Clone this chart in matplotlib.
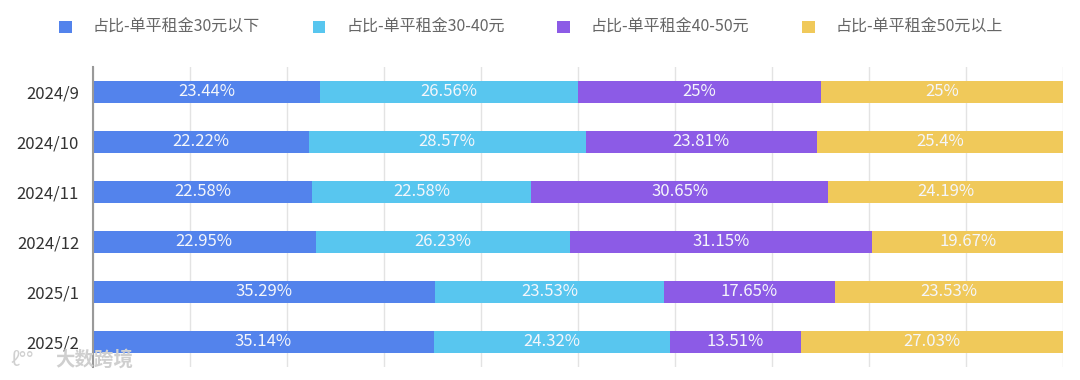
import numpy as np
import matplotlib
matplotlib.use("Agg")
import matplotlib.pyplot as plt

plt.rcParams['font.family'] = ['Noto Sans CJK SC', 'DejaVu Sans']

# data
months = ["2024/9", "2024/10", "2024/11", "2024/12", "2025/1", "2025/2"]
series_names = ["占比-单平租金30元以下", "占比-单平租金30-40元",
                "占比-单平租金40-50元", "占比-单平租金50元以上"]
below30 = [23.44, 22.22, 22.58, 22.95, 35.29, 35.14]
r30_40 = [26.56, 28.57, 22.58, 26.23, 23.53, 24.32]
r40_50 = [25, 23.81, 30.65, 31.15, 17.65, 13.51]
above50 = [25, 25.4, 24.19, 19.67, 23.53, 27.03]

colors = ["#5383ec", "#58c6ef", "#8c5be6", "#f0c95a"]

fig = plt.figure(figsize=(10.8, 3.8), dpi=100)
ax = fig.add_axes([93 / 1080, 13 / 380, 970 / 1080, 300 / 380])

y = np.arange(len(months))
left = np.zeros(len(months))
for vals, name, c in zip([below30, r30_40, r40_50, above50], series_names, colors):
    vals = np.array(vals, dtype=float)
    bars = ax.barh(y, vals, left=left, height=0.44, color=c, label=name, zorder=2)
    for b, v in zip(bars, vals):
        ax.text(b.get_x() + b.get_width() / 2, b.get_y() + b.get_height() / 2,
                f"{v:g}%", ha='center', va='center', color='#f4f6fb',
                fontsize=12, zorder=3)
    left += vals

ax.set_xlim(0, left.max())
ax.set_ylim(len(months) - 0.5, -0.5)
ax.set_yticks(y)
ax.set_yticklabels(months, fontsize=12, color='#333333')
ax.set_xticks(np.linspace(0, left.max(), 11))
ax.set_xticklabels([])
ax.tick_params(axis='x', length=0)
ax.tick_params(axis='y', length=0, pad=10)
ax.grid(axis='x', color='#e3e3e3', linewidth=1, zorder=0)
for s in ['top', 'right', 'bottom']:
    ax.spines[s].set_visible(False)
ax.spines['left'].set_color('#999999')
ax.spines['left'].set_linewidth(1.5)

fig.legend(loc='upper left', bbox_to_anchor=(40 / 1080, 1.0), ncol=4, frameon=False,
           handlelength=0.8, handleheight=0.8, handletextpad=1.3, columnspacing=3.3,
           fontsize=11.5, labelcolor='#666666', borderaxespad=0.8)

# watermark
fig.text(10 / 1080, 20 / 380, "ℓ°°", fontsize=14, color='#d0d0d0',
         va='center', ha='left', zorder=5)
fig.text(55 / 1080, 20 / 380, "大数跨境", fontsize=14, color='#cfcfcf',
         va='center', ha='left', fontweight='bold', zorder=5)

fig.savefig("out.png", dpi=100)
